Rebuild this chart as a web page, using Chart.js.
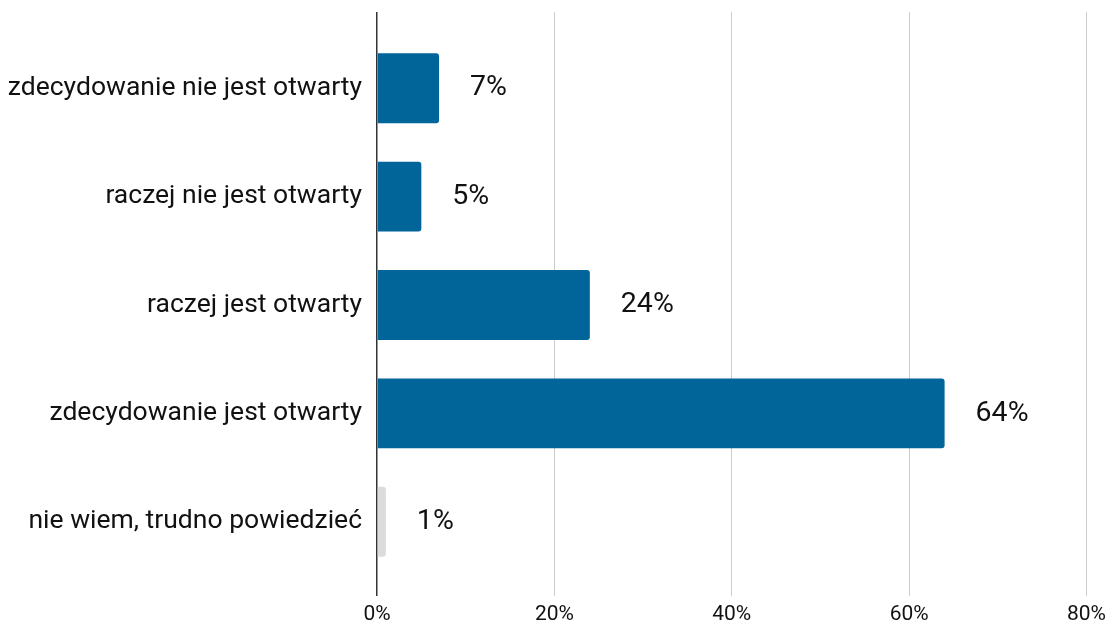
<!DOCTYPE html>
<html>
<head>
<meta charset="utf-8">
<script src="https://cdn.jsdelivr.net/npm/chart.js@4"></script>
<style>
  html, body { margin: 0; padding: 0; background: #fff; }
  #wrap { width: 1112px; height: 625px; }
</style>
</head>
<body>
<div id="wrap"><canvas id="chart" width="1112" height="625"></canvas></div>
<script>
// answers and their share (%)
const categories = [
  "zdecydowanie nie jest otwarty",
  "raczej nie jest otwarty",
  "raczej jest otwarty",
  "zdecydowanie jest otwarty",
  "nie wiem, trudno powiedzieć"
];
const shares = [7, 5, 24, 64, 1];
const barColors = ["#02659a", "#02659a", "#02659a", "#02659a", "#dcdcdc"];
const tickValues = [0, 20, 40, 60, 80];

const FONT = "Roboto";
const TEXT = "#111111";

// value labels to the right of each bar
const valueLabels = {
  id: "valueLabels",
  afterDatasetsDraw(chart) {
    const ctx = chart.ctx;
    const meta = chart.getDatasetMeta(0);
    ctx.save();
    ctx.font = "28.5px " + FONT;
    ctx.fillStyle = TEXT;
    ctx.textAlign = "left";
    ctx.textBaseline = "middle";
    meta.data.forEach((bar, i) => {
      ctx.fillText(shares[i] + "%", bar.x + 31, bar.y);
    });
    ctx.restore();
  }
};

const gridColor = ctx => (ctx.tick && ctx.tick.value === 0 ? "#333333" : "#cccccc");
const gridWidth = ctx => (ctx.tick && ctx.tick.value === 0 ? 1.5 : 1);

new Chart(document.getElementById("chart"), {
  type: "bar",
  data: {
    labels: categories,
    datasets: [{
      data: shares,
      backgroundColor: barColors,
      borderRadius: 3,
      barPercentage: 0.645,
      categoryPercentage: 1
    }]
  },
  options: {
    indexAxis: "y",
    responsive: false,
    animation: false,
    layout: { padding: { left: 0, right: 22, top: 12, bottom: 0 } },
    plugins: {
      legend: { display: false },
      tooltip: { enabled: false }
    },
    scales: {
      x: {
        position: "bottom",
        min: 0,
        max: 80,
        afterBuildTicks: s => { s.ticks = tickValues.map(v => ({ value: v })); },
        afterFit: s => { s.height = 49; },
        border: { display: false },
        grid: { color: gridColor, lineWidth: gridWidth, tickLength: 20 },
        ticks: {
          padding: 6,
          color: TEXT,
          font: { family: FONT, size: 21 },
          callback: v => v + "%"
        }
      },
      xTop: {
        axis: "x",
        position: "top",
        min: 0,
        max: 80,
        afterBuildTicks: s => { s.ticks = tickValues.map(v => ({ value: v })); },
        afterFit: s => { s.height = 22; },
        border: { display: false },
        grid: { color: gridColor, lineWidth: gridWidth, drawOnChartArea: false, tickLength: 22 },
        ticks: { display: false }
      },
      y: {
        afterFit: s => { s.width = 377; },
        border: { display: false },
        grid: { display: false, drawTicks: false },
        ticks: {
          padding: 15,
          color: TEXT,
          font: { family: FONT, size: 26.5 }
        }
      }
    }
  },
  plugins: [valueLabels]
});
</script>
</body>
</html>
